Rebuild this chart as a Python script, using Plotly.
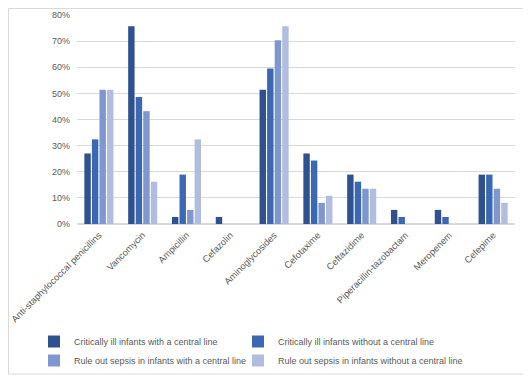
import plotly.graph_objects as go

categories = ["Anti-staphylococcal penicillins", "Vancomycin", "Ampicillin", "Cefazolin",
              "Aminoglycosides", "Cefotaxime", "Ceftazidime", "Piperacillin-tazobactam",
              "Meropenem", "Cefepime"]
series_names = ["Critically ill infants with a central line",
                "Critically ill infants without a central line",
                "Rule out sepsis in infants with a central line",
                "Rule out sepsis in infants without a central line"]
crit_with = [27.0, 75.7, 2.7, 2.7, 51.4, 27.0, 18.9, 5.4, 5.4, 18.9]
crit_without = [32.4, 48.6, 18.9, 0, 59.5, 24.3, 16.2, 2.7, 2.7, 18.9]
ros_with = [51.4, 43.2, 5.4, 0, 70.3, 8.1, 13.5, 0, 0, 13.5]
ros_without = [51.4, 16.2, 32.4, 0, 75.7, 10.8, 13.5, 0, 0, 8.1]
y_ticks = [0, 10, 20, 30, 40, 50, 60, 70, 80]
y_tick_labels = ["0%", "10%", "20%", "30%", "40%", "50%", "60%", "70%", "80%"]

colors = ["#2F5190", "#3C68B3", "#7F97CE", "#B0BDDF"]
series = [crit_with, crit_without, ros_with, ros_without]
legend_ids = ["legend", "legend2", "legend", "legend2"]

fig = go.Figure()
for name, vals, c, lg in zip(series_names, series, colors, legend_ids):
    fig.add_trace(go.Bar(x=categories, y=vals, name=name, marker_color=c,
                         marker_line_width=0, legend=lg))

font = "Liberation Sans, Arial, sans-serif"
# page is offset by the 8px body margin: plot area page x 77..515, y 15..224
L, T, W, H = 69, 7, 438, 209
leg_common = dict(orientation="v", xref="container", yref="container",
                  xanchor="left", yanchor="top", bgcolor="rgba(0,0,0,0)",
                  font=dict(size=9, color="#595959"), itemwidth=30,
                  tracegroupgap=0, traceorder="normal")
fig.update_layout(
    width=531, height=378,
    margin=dict(l=L, r=531 - L - W, t=T, b=378 - T - H, autoexpand=False),
    paper_bgcolor="white", plot_bgcolor="white",
    barmode="group", bargap=0.31, bargroupgap=0.15,
    font=dict(family=font, size=9, color="#595959"),
    showlegend=True,
    legend=dict(x=26 / 531, y=(378 - 319) / 378, **leg_common),
    legend2=dict(x=230 / 531, y=(378 - 319) / 378, **leg_common),
    xaxis=dict(tickangle=-45, showgrid=False, showline=False, ticks="",
               ticklabelstandoff=3,
               tickfont=dict(size=9.3, color="#595959")),
    yaxis=dict(range=[0, 80], tickvals=y_ticks, ticktext=y_tick_labels, showgrid=True,
               gridcolor="#D9D9D9", gridwidth=1, zeroline=True, zerolinecolor="#D9D9D9",
               showline=False, ticks="", ticklabelstandoff=6,
               tickfont=dict(size=9, color="#595959")),
    shapes=[dict(type="rect", xref="paper", yref="paper",
                 x0=(0.5 - L) / W, x1=(519 - L) / W,
                 y0=(T + H - 366) / H, y1=(T + H - 0.5) / H,
                 line=dict(color="#D9D9D9", width=1), fillcolor="rgba(0,0,0,0)")],
)
fig.write_html("out.html")
